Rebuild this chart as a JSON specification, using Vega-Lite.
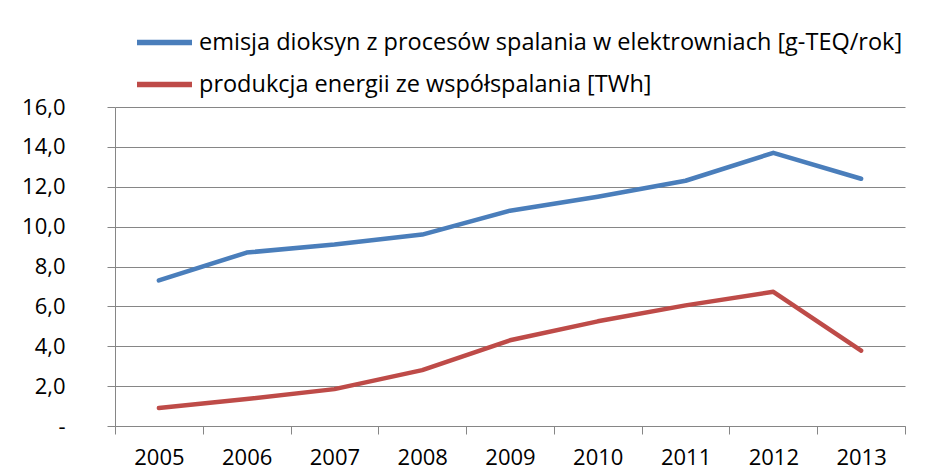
{
  "$schema": "https://vega.github.io/schema/vega-lite/v6.json",
  "width": 790,
  "height": 319,
  "autosize": {"type": "none"},
  "padding": {"left": 115, "top": 107, "right": 28, "bottom": 45},
  "background": "white",
  "data": {
    "values": [
      {"rok": "2005", "seria": "emisja dioksyn z procesów  spalania w elektrowniach [g-TEQ/rok]", "wartosc": 7.3},
      {"rok": "2006", "seria": "emisja dioksyn z procesów  spalania w elektrowniach [g-TEQ/rok]", "wartosc": 8.7},
      {"rok": "2007", "seria": "emisja dioksyn z procesów  spalania w elektrowniach [g-TEQ/rok]", "wartosc": 9.1},
      {"rok": "2008", "seria": "emisja dioksyn z procesów  spalania w elektrowniach [g-TEQ/rok]", "wartosc": 9.6},
      {"rok": "2009", "seria": "emisja dioksyn z procesów  spalania w elektrowniach [g-TEQ/rok]", "wartosc": 10.8},
      {"rok": "2010", "seria": "emisja dioksyn z procesów  spalania w elektrowniach [g-TEQ/rok]", "wartosc": 11.5},
      {"rok": "2011", "seria": "emisja dioksyn z procesów  spalania w elektrowniach [g-TEQ/rok]", "wartosc": 12.3},
      {"rok": "2012", "seria": "emisja dioksyn z procesów  spalania w elektrowniach [g-TEQ/rok]", "wartosc": 13.7},
      {"rok": "2013", "seria": "emisja dioksyn z procesów  spalania w elektrowniach [g-TEQ/rok]", "wartosc": 12.4},
      {"rok": "2005", "seria": "produkcja energii ze współspalania  [TWh]", "wartosc": 0.9},
      {"rok": "2006", "seria": "produkcja energii ze współspalania  [TWh]", "wartosc": 1.35},
      {"rok": "2007", "seria": "produkcja energii ze współspalania  [TWh]", "wartosc": 1.85},
      {"rok": "2008", "seria": "produkcja energii ze współspalania  [TWh]", "wartosc": 2.8},
      {"rok": "2009", "seria": "produkcja energii ze współspalania  [TWh]", "wartosc": 4.3},
      {"rok": "2010", "seria": "produkcja energii ze współspalania  [TWh]", "wartosc": 5.25},
      {"rok": "2011", "seria": "produkcja energii ze współspalania  [TWh]", "wartosc": 6.05},
      {"rok": "2012", "seria": "produkcja energii ze współspalania  [TWh]", "wartosc": 6.73},
      {"rok": "2013", "seria": "produkcja energii ze współspalania  [TWh]", "wartosc": 3.78}
    ]
  },
  "mark": {"type": "line", "strokeWidth": 4.5, "strokeCap": "round", "strokeJoin": "round"},
  "encoding": {
    "x": {
      "field": "rok",
      "type": "ordinal",
      "title": null,
      "scale": {"type": "band", "paddingInner": 0, "paddingOuter": 0},
      "axis": {
        "labelAngle": 0,
        "tickBand": "extent",
        "grid": false,
        "domainColor": "#868686",
        "tickColor": "#868686",
        "tickSize": 8,
        "labelPadding": 13,
        "labelFont": "Open Sans",
        "labelFontSize": 22,
        "labelColor": "#000000"
      }
    },
    "y": {
      "field": "wartosc",
      "type": "quantitative",
      "title": null,
      "scale": {"domain": [0, 16], "nice": false},
      "axis": {
        "values": [0, 2, 4, 6, 8, 10, 12, 14, 16],
        "labelExpr": "datum.value == 0 ? '-' : replace(format(datum.value, '.1f'), '.', ',')",
        "grid": true,
        "gridColor": "#868686",
        "domainColor": "#868686",
        "tickColor": "#868686",
        "tickSize": 8,
        "labelPadding": 42,
        "labelFont": "Open Sans",
        "labelFontSize": 22,
        "labelColor": "#000000"
      }
    },
    "color": {
      "field": "seria",
      "type": "nominal",
      "title": null,
      "scale": {
        "domain": ["emisja dioksyn z procesów  spalania w elektrowniach [g-TEQ/rok]", "produkcja energii ze współspalania  [TWh]"],
        "range": ["#4a7ebb", "#be4b48"]
      },
      "legend": {
        "orient": "none",
        "legendX": 19,
        "legendY": -95,
        "symbolType": "stroke",
        "symbolSize": 3025,
        "symbolStrokeWidth": 5.5,
        "labelFont": "Open Sans",
        "labelFontSize": 23.5,
        "labelColor": "#000000",
        "labelOffset": 4,
        "rowPadding": 0,
        "labelLimit": 900
      }
    }
  },
  "config": {
    "view": {"stroke": null}
  }
}
